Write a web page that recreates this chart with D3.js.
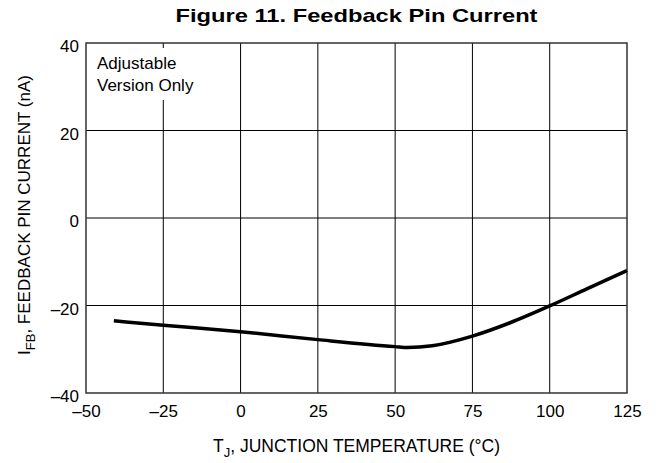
<!DOCTYPE html>
<html>
<head>
<meta charset="utf-8">
<script src="https://cdn.jsdelivr.net/npm/d3@7"></script>
<style>
  body { margin: 0; background: #fff; }
  text { font-family: "Liberation Sans", Arial, sans-serif; fill: #000; }
</style>
</head>
<body>
<script>
// curve: junction temperature (C) vs feedback pin current (nA)
let temps    = [-41, -25, 0, 25, 50, 54, 62, 75, 87, 100, 112, 125];
let currents = [-23.5, -24.5, -26, -27.8, -29.4, -29.6, -29.2, -27, -24, -20.1, -16.2, -12];
let xTicks = [-50, -25, 0, 25, 50, 75, 100, 125];
let yTicks = [-40, -20, 0, 20, 40];

let width = 659, height = 463;
let margin = { left: 86, right: 32, top: 43, bottom: 70 };

let svg = d3.select("body").append("svg")
    .attr("width", width)
    .attr("height", height);

let x = d3.scaleLinear().domain([-50, 125]).range([margin.left, width - margin.right]);
let y = d3.scaleLinear().domain([-40, 40]).range([height - margin.bottom, margin.top]);

let fmt = d => (d < 0 ? "\u2013" + Math.abs(d) : "" + d);

// grid
svg.append("g").selectAll("line").data(xTicks.slice(1, -1)).join("line")
    .attr("x1", d => x(d)).attr("x2", d => x(d))
    .attr("y1", y(40)).attr("y2", y(-40))
    .attr("stroke", "#000").attr("stroke-width", 1);
svg.append("g").selectAll("line").data(yTicks.slice(1, -1)).join("line")
    .attr("x1", x(-50)).attr("x2", x(125))
    .attr("y1", d => y(d)).attr("y2", d => y(d))
    .attr("stroke", "#000").attr("stroke-width", 1);

// white box behind the note (hides the grid line there)
svg.append("rect")
    .attr("x", x(-50) + 2).attr("y", y(40) + 5)
    .attr("width", 110).attr("height", 52)
    .attr("fill", "#fff");
svg.append("text").attr("x", x(-50) + 11).attr("y", y(40) + 26)
    .attr("font-size", 17).text("Adjustable");
svg.append("text").attr("x", x(-50) + 11).attr("y", y(40) + 48)
    .attr("font-size", 17).text("Version Only");

// frame
svg.append("rect")
    .attr("x", x(-50)).attr("y", y(40))
    .attr("width", x(125) - x(-50)).attr("height", y(-40) - y(40))
    .attr("fill", "none").attr("stroke", "#333").attr("stroke-width", 1.5);

// axes (labels only)
let xAxis = d3.axisBottom(x).tickValues(xTicks).tickSize(0).tickPadding(12).tickFormat(fmt);
let gx = svg.append("g").attr("transform", "translate(0," + y(-40) + ")").call(xAxis);
let yAxis = d3.axisLeft(y).tickValues(yTicks).tickSize(0).tickPadding(7).tickFormat(fmt);
let gy = svg.append("g").attr("transform", "translate(" + x(-50) + ",0)").call(yAxis);
[gx, gy].forEach(g => {
  g.select(".domain").remove();
  g.selectAll("text").attr("font-size", 17)
    .style("font-family", '"Liberation Sans", Arial, sans-serif');
});
gy.selectAll("text").attr("dy", "0.5em");

// curve
let line = d3.line().x((d, i) => x(temps[i])).y(d => y(d)).curve(d3.curveMonotoneX);
svg.append("path")
    .datum(currents)
    .attr("d", line)
    .attr("fill", "none")
    .attr("stroke", "#000")
    .attr("stroke-width", 3.5);

// title
svg.append("text")
    .attr("x", (x(-50) + x(125)) / 2).attr("y", 22)
    .attr("text-anchor", "middle")
    .attr("font-size", 19).attr("font-weight", "bold")
    .attr("textLength", 362).attr("lengthAdjust", "spacingAndGlyphs")
    .text("Figure 11. Feedback Pin Current");

// x title
let xt = svg.append("text")
    .attr("x", (x(-50) + x(125)) / 2).attr("y", 452)
    .attr("text-anchor", "middle").attr("font-size", 17.5);
xt.append("tspan").text("T");
xt.append("tspan").attr("font-size", 13).attr("dy", 5).text("J");
xt.append("tspan").attr("dy", -5).text(", JUNCTION TEMPERATURE (\u00b0C)");

// y title
let yt = svg.append("text")
    .attr("transform", "translate(30,215) rotate(-90)")
    .attr("text-anchor", "middle").attr("font-size", 17);
yt.append("tspan").text("I");
yt.append("tspan").attr("font-size", 13).attr("dy", 5).text("FB");
yt.append("tspan").attr("dy", -5).text(", FEEDBACK PIN CURRENT (nA)");
</script>
</body>
</html>
